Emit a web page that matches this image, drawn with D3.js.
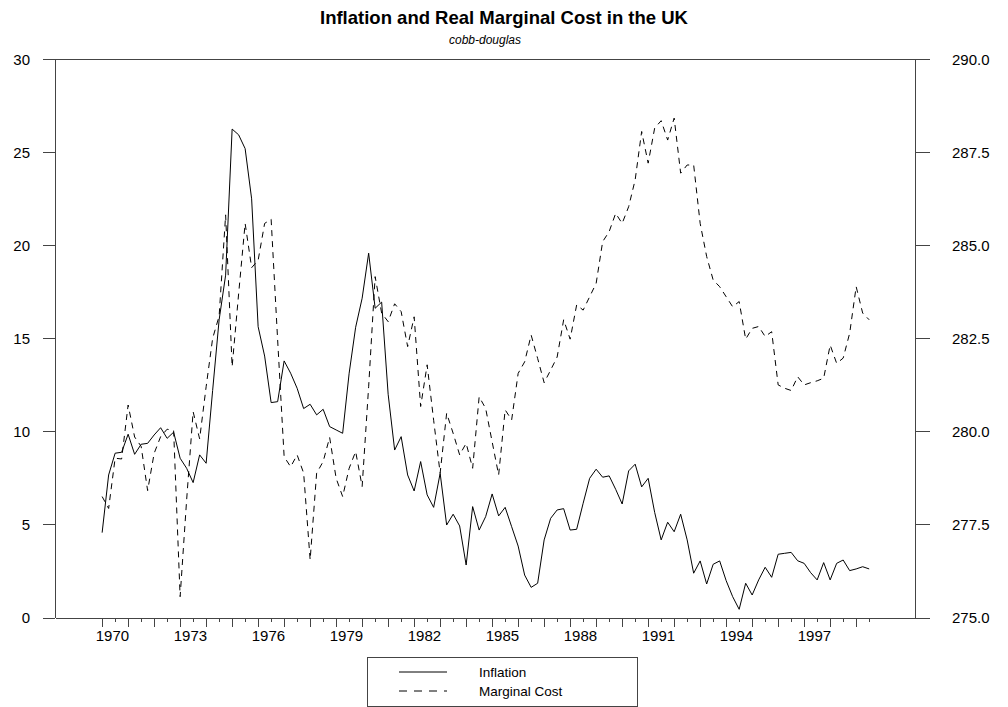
<!DOCTYPE html>
<html>
<head>
<meta charset="utf-8">
<title>Inflation and Real Marginal Cost in the UK</title>
<script src="https://cdn.jsdelivr.net/npm/d3@7"></script>
<style>
body { margin: 0; background: #fff; }
svg { font-family: "Liberation Sans", Arial, Helvetica, sans-serif; }
.axis path, .axis line { stroke: #444; shape-rendering: crispEdges; }
.axis text { fill: #000; font-size: 15px; }
.line { fill: none; stroke: #000; stroke-width: 1px; }
</style>
</head>
<body>
<script>
// quarterly observations, 1970 Q1 onwards
var startYear = 1970;

// inflation (left axis, %)
var inflation = [
  4.56, 7.66, 8.83, 8.88, 9.85, 8.77, 9.31, 9.36, 9.81, 10.2,
  9.63, 9.96, 8.56, 8.02, 7.25, 8.74, 8.29, 12.2, 16.0, 18.4,
  26.25, 25.94, 25.2, 22.5, 15.63, 14.05, 11.55, 11.6, 13.79, 13.13,
  12.32, 11.23, 11.46, 10.89, 11.19, 10.26, 10.08, 9.9, 13.13, 15.6,
  17.16, 19.58, 16.62, 16.95, 12.0, 9.0, 9.72, 7.66, 6.8, 8.38,
  6.59, 5.92, 7.75, 4.97, 5.55, 4.92, 2.82, 5.96, 4.70, 5.42,
  6.64, 5.46, 5.92, 4.88, 3.84, 2.28, 1.62, 1.84, 4.17, 5.33,
  5.78, 5.85, 4.70, 4.74, 6.14, 7.48, 7.97, 7.54, 7.61, 6.89,
  6.10, 7.88, 8.24, 7.02, 7.48, 5.65, 4.17, 5.12, 4.61, 5.55,
  4.17, 2.38, 3.04, 1.80, 2.86, 3.04, 1.98, 1.12, 0.44, 1.84,
  1.21, 2.02, 2.70, 2.16, 3.40, 3.45, 3.50, 3.05, 2.91, 2.41,
  2.02, 2.95, 2.02, 2.91, 3.09, 2.52, 2.61, 2.73, 2.61
];

// real marginal cost (right axis)
var marginalCost = [
  278.25, 277.93, 279.28, 279.26, 280.71, 279.85, 279.6, 278.41, 279.41, 279.86,
  280.06, 280.02, 275.56, 278.16, 280.53, 279.8, 281.2, 282.5, 283.1, 285.82,
  281.74, 283.7, 285.59, 284.4, 284.6, 285.59, 285.7, 282.46, 279.32, 279.05,
  279.37, 278.88, 276.55, 278.88, 279.19, 279.84, 278.74, 278.25, 279.01, 279.46,
  278.52, 281.2, 284.16, 283.18, 282.95, 283.43, 283.22, 282.28, 283.08, 280.67,
  281.79, 280.3, 278.88, 280.49, 279.95, 279.37, 279.68, 279.01, 280.93, 280.62,
  279.72, 278.83, 280.58, 280.31, 281.56, 281.87, 282.59, 281.96, 281.31, 281.65,
  282.0, 283.0, 282.48, 283.4, 283.26, 283.62, 283.98, 285.1, 285.37, 285.86,
  285.59, 286.04, 286.76, 288.06, 287.21, 288.15, 288.35, 287.83, 288.42, 286.94,
  287.16, 287.16, 285.59, 284.7, 284.07, 283.89, 283.62, 283.35, 283.49, 282.48,
  282.77, 282.82, 282.55, 282.68, 281.25, 281.16, 281.1, 281.47, 281.25, 281.31,
  281.36, 281.43, 282.32, 281.83, 281.97, 282.64, 283.89, 283.18, 283.0
];

var yearLabels = [1970, 1973, 1976, 1979, 1982, 1985, 1988, 1991, 1994, 1997];
var leftTicks = [0, 5, 10, 15, 20, 25, 30];
var rightTicks = [275, 277.5, 280, 282.5, 285, 287.5, 290];
var seriesNames = ["Inflation", "Marginal Cost"];

// plot frame
var frame = {left: 55, right: 915, top: 59.3, bottom: 617.5};

var svg = d3.select("body").append("svg")
    .attr("width", 1008)
    .attr("height", 707);

// x is the observation index (one per quarter)
var x = d3.scaleLinear()
    .domain([-7.25, 125.05])
    .range([frame.left, frame.right]);

var yLeft = d3.scaleLinear()
    .domain([0, 30])
    .range([frame.bottom, frame.top]);

var yRight = d3.scaleLinear()
    .domain([275, 290])
    .range([frame.bottom, frame.top]);

var idx = d3.range(inflation.length);
var halfYears = idx.filter(function(i) { return i % 2 == 0; });
var years = idx.filter(function(i) { return i % 4 == 0; });

// top border
svg.append("line")
    .attr("x1", frame.left).attr("x2", frame.right)
    .attr("y1", frame.top).attr("y2", frame.top)
    .attr("stroke", "#444")
    .attr("shape-rendering", "crispEdges");

// bottom axis: short ticks every half year, long ticks every year
svg.append("g")
    .attr("class", "axis")
    .attr("transform", "translate(0," + frame.bottom + ")")
    .call(d3.axisBottom(x).tickValues(halfYears).tickSize(4).tickSizeOuter(0).tickFormat(""));

svg.append("g")
    .attr("class", "axis")
    .attr("transform", "translate(0," + frame.bottom + ")")
    .call(d3.axisBottom(x).tickValues(years).tickSize(9).tickSizeOuter(0).tickFormat(""));

// year labels sit in the middle of the year
svg.append("g")
    .attr("class", "axis")
    .attr("transform", "translate(0," + frame.bottom + ")")
    .call(d3.axisBottom(x)
      .tickValues(yearLabels.map(function(y) { return (y - startYear) * 4 + 1.5; }))
      .tickSize(0).tickPadding(12.5)
      .tickFormat(function(d) { return startYear + (d - 1.5) / 4; }))
    .select(".domain").remove();

// left axis
svg.append("g")
    .attr("class", "axis")
    .attr("transform", "translate(" + frame.left + ",0)")
    .call(d3.axisLeft(yLeft).tickValues(leftTicks).tickSize(12).tickSizeOuter(0).tickPadding(13));

// right axis
svg.append("g")
    .attr("class", "axis")
    .attr("transform", "translate(" + frame.right + ",0)")
    .call(d3.axisRight(yRight).tickValues(rightTicks).tickSize(15).tickSizeOuter(0)
      .tickPadding(22).tickFormat(d3.format(".1f")));

// lines
var inflLine = d3.line()
    .x(function(d, i) { return x(i); })
    .y(function(d) { return yLeft(d); });

var mcLine = d3.line()
    .x(function(d, i) { return x(i); })
    .y(function(d) { return yRight(d); });

svg.append("path")
    .datum(marginalCost)
    .attr("class", "line")
    .attr("stroke-dasharray", "6,5")
    .attr("d", mcLine);

svg.append("path")
    .datum(inflation)
    .attr("class", "line")
    .attr("d", inflLine);

// title (centred on the page), subtitle (centred on the plot)
svg.append("text")
    .attr("x", 504)
    .attr("y", 24)
    .attr("text-anchor", "middle")
    .style("font-size", "18.5px")
    .style("font-weight", "bold")
    .text("Inflation and Real Marginal Cost in the UK");

svg.append("text")
    .attr("x", (frame.left + frame.right) / 2)
    .attr("y", 44)
    .attr("text-anchor", "middle")
    .style("font-size", "12px")
    .style("font-style", "italic")
    .text("cobb-douglas");

// legend
var legend = svg.append("g").attr("transform", "translate(367,657)");

legend.append("rect")
    .attr("width", 270)
    .attr("height", 49)
    .attr("fill", "none")
    .attr("stroke", "#444")
    .attr("shape-rendering", "crispEdges");

seriesNames.forEach(function(name, k) {
  legend.append("line")
      .attr("x1", 32).attr("x2", 80)
      .attr("y1", 15 + k * 19).attr("y2", 15 + k * 19)
      .attr("stroke", "#000")
      .attr("stroke-dasharray", k == 1 ? "8,7" : null);
  legend.append("text")
      .attr("x", 112)
      .attr("y", 20 + k * 19)
      .style("font-size", "13.5px")
      .text(name);
});
</script>
</body>
</html>
